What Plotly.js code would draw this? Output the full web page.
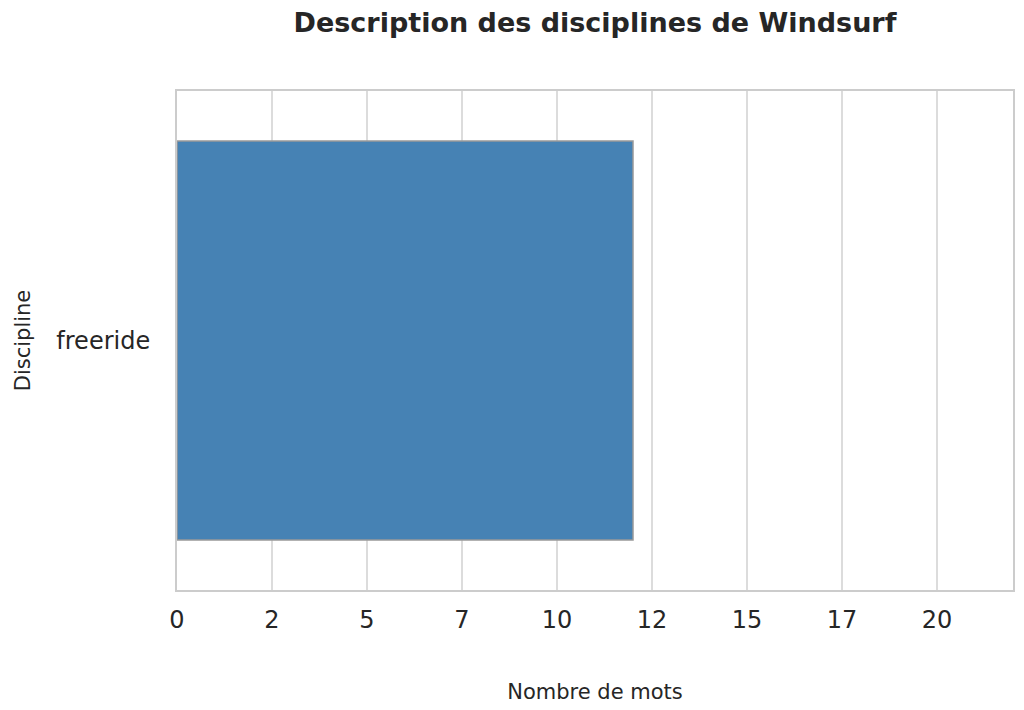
<!DOCTYPE html>
<html><head><meta charset="utf-8">
<script src="https://cdn.plot.ly/plotly-3.0.1.min.js"></script>
<style>html,body{margin:0;padding:0;background:#fff}#chart{width:1024px;height:710px}</style>
</head><body><div id="chart"></div>
<script>
const disciplines = ["freeride"];
const wordCounts = [12];
const tickValues = [0, 2.5, 5, 7.5, 10, 12.5, 15, 17.5, 20];
const tickLabels = ["0", "2", "5", "7", "10", "12", "15", "17", "20"];

const trace = {
  type: "bar",
  orientation: "h",
  y: disciplines,
  x: wordCounts,
  width: 0.8,
  marker: {color: "#4682b4", line: {color: "#999999", width: 1.5}},
  hoverinfo: "none"
};
const layout = {
  width: 1024, height: 710,
  margin: {l: 177, r: 11, t: 91, b: 120},
  paper_bgcolor: "#fff", plot_bgcolor: "#fff",
  font: {family: "DejaVu Sans", color: "#262626"},
  title: {text: "<b>Description des disciplines de Windsurf</b>", xref: "paper", x: 0.5, xanchor: "center", y: 0.968, yanchor: "middle", font: {size: 27, color: "#262626"}},
  xaxis: {
    range: [0, 22], tickvals: tickValues, ticktext: tickLabels,
    showgrid: true, gridcolor: "#dcdcdc", gridwidth: 1.5,
    zeroline: false, showline: true, linecolor: "#cccccc", linewidth: 2, mirror: true,
    ticks: "", ticklabelstandoff: 7, tickfont: {size: 24, color: "#262626"},
    title: {text: "Nombre de mots", font: {size: 21, color: "#262626"}, standoff: 52}
  },
  yaxis: {
    showgrid: false, zeroline: false, showline: true, linecolor: "#cccccc", linewidth: 2, mirror: true,
    ticks: "", ticklabelstandoff: 20, tickfont: {size: 24, color: "#262626"},
    title: {text: "Discipline", font: {size: 21, color: "#262626"}, standoff: 20}
  },
  bargap: 0.2,
  showlegend: false
};
Plotly.newPlot("chart", [trace], layout, {displayModeBar: false, staticPlot: true});
</script></body></html>
